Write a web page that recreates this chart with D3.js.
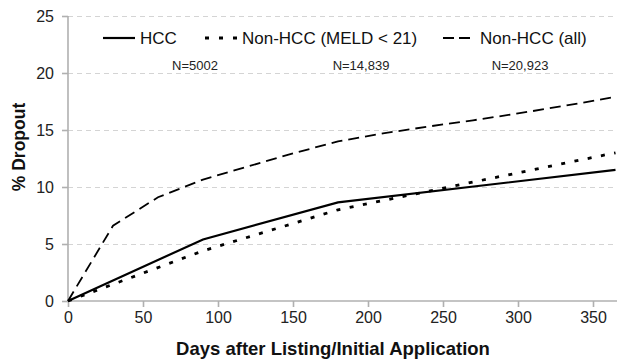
<!DOCTYPE html>
<html lang="en">
<head>
	<meta charset="UTF-8">
	<title>Dropout</title>
	<style>
		body { margin: 0; background: #fff; }
		svg { font-family: "Liberation Sans", Arial, sans-serif; }
		.grid line {
			stroke: #d4d4d4;
			stroke-width: 1.2px;
			stroke-dasharray: 5px 4px;
			shape-rendering: crispEdges;
		}
		.grid path { stroke-width: 0; }
		.axis path, .axis line {
			stroke: #b0b0b0;
			stroke-width: 1.6px;
		}
		.axis text { fill: #222; font-size: 16px; }
		.line { fill: none; stroke: #000; }
		.title { font-weight: bold; font-size: 17.5px; fill: #111; }
	</style>
	<script src="https://cdn.jsdelivr.net/npm/d3@7"></script>
</head>
<body>
	<div class="wrap"></div>
	<script>
	// data
	var days = [0, 30, 60, 90, 120, 150, 180, 210, 240, 270, 300, 330, 365];
	var hccDays = [0, 90, 180, 365];
	var hccValues = [0, 5.4, 8.65, 11.5];
	var meldDays = [0, 90, 180, 365];
	var meldValues = [0, 4.4, 8.0, 13.0];
	var allValues = [0, 6.6, 9.1, 10.65, 11.8, 12.95, 14.0, 14.7, 15.3, 15.85, 16.45, 17.1, 17.9];
	var seriesNames = ["HCC", "Non-HCC (MELD < 21)", "Non-HCC (all)"];
	var seriesN = ["N=5002", "N=14,839", "N=20,923"];
	var xTicks = [0, 50, 100, 150, 200, 250, 300, 350];
	var yTicks = [0, 5, 10, 15, 20, 25];

	var margin = {top: 16, right: 1.5, bottom: 62, left: 68},
		width = 617 - margin.left - margin.right,
		height = 363 - margin.top - margin.bottom;

	var x = d3.scaleLinear().domain([0, 365]).range([0, width]);
	var y = d3.scaleLinear().domain([0, 25]).range([height, 0]);

	var svg = d3.select(".wrap").append("svg")
		.attr("width", 617)
		.attr("height", 363)
		.append("g")
		.attr("transform", "translate(" + margin.left + "," + margin.top + ")");

	// dashed gridlines
	svg.append("g")
		.attr("class", "grid")
		.call(d3.axisLeft(y).tickValues(yTicks.slice(1)).tickSize(-(width + margin.right)).tickFormat(""));

	// axes
	var yAxis = svg.append("g")
		.attr("class", "axis")
		.call(d3.axisLeft(y).tickValues(yTicks).tickSize(6).tickSizeOuter(0).tickPadding(8));
	yAxis.select(".domain").attr("d", "M0," + y(0) + "V" + y(25));

	var xAxis = svg.append("g")
		.attr("class", "axis")
		.attr("transform", "translate(0," + height + ")")
		.call(d3.axisBottom(x).tickValues(xTicks).tickSize(6).tickSizeOuter(0).tickPadding(5));
	xAxis.select(".domain").attr("d", "M0,0H" + (width + margin.right));

	// lines
	var line = d3.line()
		.x(function(d) { return x(d[0]); })
		.y(function(d) { return y(d[1]); });

	var series = [
		{pts: d3.zip(hccDays, hccValues), width: 2.2, dash: null},
		{pts: d3.zip(meldDays, meldValues), width: 2.8, dash: "4,9.5"},
		{pts: d3.zip(days, allValues), width: 1.8, dash: "11,6"}
	];

	series.forEach(function(s) {
		svg.append("path")
			.datum(s.pts)
			.attr("class", "line")
			.attr("stroke-width", s.width)
			.attr("stroke-dasharray", s.dash)
			.attr("d", line);
	});

	// legend
	var legendX = [103, 205, 443],
		legendLen = [32, 32, 27],
		nX = [195, 361, 520];
	var legend = d3.select("svg");
	series.forEach(function(s, i) {
		legend.append("line")
			.attr("x1", legendX[i]).attr("x2", legendX[i] + legendLen[i])
			.attr("y1", 38).attr("y2", 38)
			.attr("stroke", "#000")
			.attr("stroke-width", s.width)
			.attr("stroke-dasharray", i == 1 ? "4,10" : (i == 2 ? "11,5" : null));
		legend.append("text")
			.attr("x", legendX[i] + legendLen[i] + (i == 2 ? 10 : 5))
			.attr("y", 44)
			.attr("font-size", "17px")
			.attr("fill", "#111")
			.text(seriesNames[i]);
		legend.append("text")
			.attr("x", nX[i])
			.attr("y", 70)
			.attr("text-anchor", "middle")
			.attr("font-size", "13px")
			.attr("fill", "#222")
			.text(seriesN[i]);
	});

	// axis titles
	legend.append("text")
		.attr("class", "title")
		.attr("x", 333)
		.attr("y", 355)
		.attr("font-size", "18.5px")
		.style("font-size", "18.5px")
		.attr("text-anchor", "middle")
		.text("Days after Listing/Initial Application");

	legend.append("text")
		.attr("class", "title")
		.attr("transform", "translate(25,147) rotate(-90)")
		.attr("text-anchor", "middle")
		.text("% Dropout");
	</script>
</body>
</html>
